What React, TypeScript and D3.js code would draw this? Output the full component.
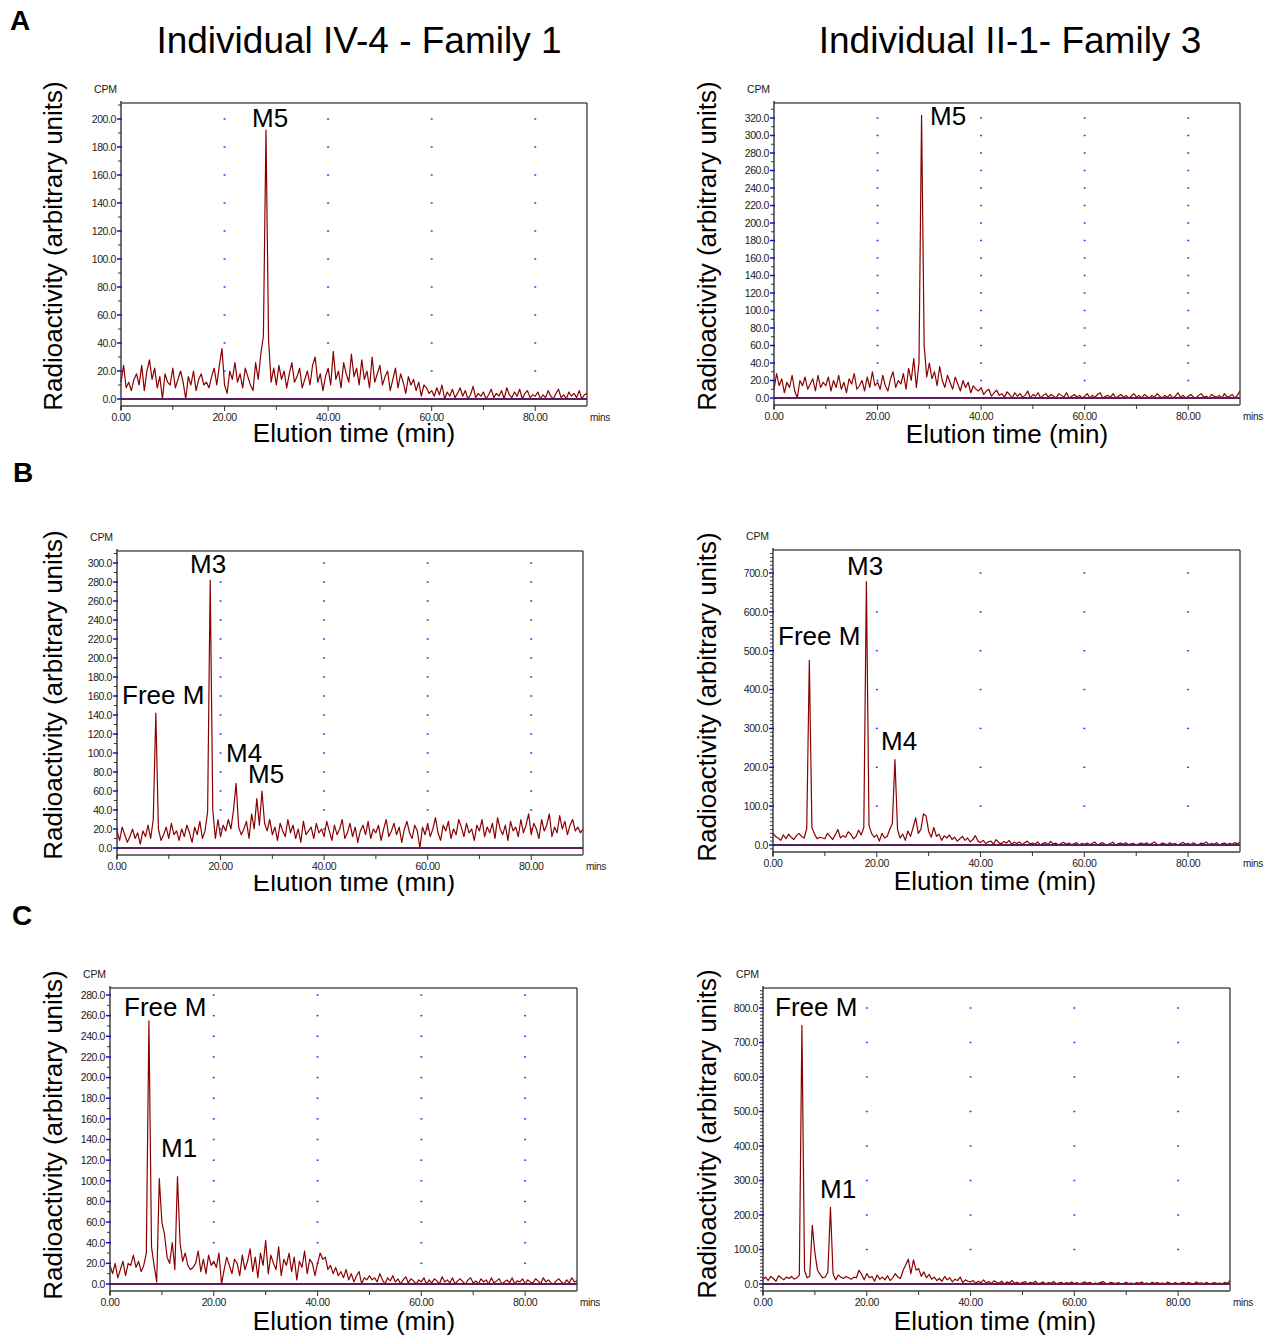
import React from "react";
import * as d3 from "d3";

// Sampling of every chromatogram (minutes between successive readings)
const SAMPLE_STEP_MIN = 0.5;
const X_TICKS = [0, 20, 40, 60, 80];
const X_MINOR = [10, 30, 50, 70];
const GRID_X = [20, 40, 60, 80];

const titles = ["Individual IV-4 - Family 1", "Individual II-1- Family 3"];
const panelLetters = ["A", "B", "C"];
const yAxisTitle = "Radioactivity (arbitrary units)";
const xAxisTitle = "Elution time (min)";

// CPM readings, 0 .. 90 min every 0.5 min (181 values each)
const family1PanelA = [
  12, 24, 8, 12, 6, 14, 18, 10, 24, 6, 20, 28, 14, 22, 8, 16, 0, 18, 12, 10,
  22, 8, 14, 20, 12, 0, 16, 10, 20, 6, 14, 18, 10, 12, 8, 16, 22, 10, 24, 36,
  10, 4, 20, 14, 26, 12, 18, 8, 22, 16, 10, 6, 26, 14, 32, 45, 192, 42, 12, 22,
  10, 24, 14, 20, 8, 18, 26, 12, 16, 22, 8, 14, 20, 10, 24, 30, 12, 18, 6, 16,
  22, 10, 34, 14, 20, 8, 26, 18, 12, 32, 16, 22, 10, 28, 14, 20, 8, 30, 12, 18,
  24, 10, 16, 20, 6, 14, 22, 8, 18, 12, 4, 16, 10, 14, 6, 12, 2, 10, 8, 4,
  6, 2, 8, 3, 10, 0, 5, 2, 7, 1, 4, 8, 2, 6, 0, 3, 9, 1, 4, 2,
  5, 0, 3, 7, 1, 4, 2, 6, 0, 8, 3, 1, 5, 2, 7, 0, 4, 6, 1, 3,
  2, 5, 0, 3, 1, 6, 2, 0, 4, 7, 1, 3, 0, 5, 2, 4, 1, 6, 0, 3,
  4,
];
const family3PanelA = [
  10, 28, 14, 22, 6, 18, 12, 26, 8, 0, 20, 14, 24, 10, 16, 22, 8, 26, 12, 18,
  14, 24, 8, 20, 12, 26, 10, 18, 6, 22, 16, 28, 10, 14, 20, 8, 24, 12, 30, 14,
  18, 10, 26, 14, 8, 22, 30, 12, 20, 16, 28, 10, 34, 20, 45, 12, 40, 323, 60, 24,
  40, 22, 30, 14, 36, 20, 12, 26, 18, 10, 24, 16, 8, 20, 12, 18, 6, 14, 10, 8,
  12, 4, 8, 10, 2, 6, 9, 3, 5, 1, 7, 4, 0, 6, 2, 5, 1, 3, 8, 0,
  4, 2, 6, 0, 3, 5, 1, 4, 2, 0, 5, 3, 1, 6, 0, 2, 4, 1, 3, 0,
  2, 5, 0, 3, 1, 4, 6, 0, 2, 3, 1, 5, 0, 2, 4, 1, 3, 0, 2, 5,
  1, 3, 0, 4, 2, 0, 3, 1, 5, 2, 0, 3, 1, 4, 0, 2, 6, 1, 3, 0,
  2, 4, 1, 0, 3, 5, 1, 2, 0, 4, 2, 1, 3, 0, 5, 1, 2, 4, 0, 3,
  8,
];
const family1PanelB = [
  18, 8, 22, 14, 6, 12, 20, 10, 16, 4, 18, 12, 24, 10, 30, 142, 20, 8, 14, 22,
  10, 26, 14, 18, 8, 20, 12, 24, 16, 6, 22, 14, 28, 10, 18, 38, 282, 40, 10, 30,
  12, 24, 18, 30, 20, 40, 68, 22, 14, 20, 28, 10, 36, 20, 52, 24, 60, 26, 18, 30,
  14, 22, 8, 26, 18, 12, 30, 16, 24, 10, 20, 6, 28, 14, 18, 22, 10, 26, 16, 20,
  12, 28, 18, 8, 24, 14, 20, 30, 10, 16, 26, 12, 22, 6, 18, 24, 14, 28, 10, 20,
  16, 24, 8, 20, 30, 12, 18, 26, 14, 22, 6, 20, 28, 16, 10, 24, 18, 0, 22, 14,
  26, 12, 20, 32, 16, 8, 24, 18, 28, 10, 20, 14, 30, 22, 12, 26, 16, 20, 8, 24,
  18, 30, 12, 22, 16, 26, 10, 32, 20, 14, 24, 8, 28, 18, 22, 12, 30, 16, 24, 36,
  14, 26, 20, 10, 30, 18, 24, 36, 12, 22, 16, 34, 20, 28, 14, 24, 30, 18, 22, 16,
  20,
];
const family3PanelB = [
  30, 22, 18, 12, 26, 16, 28, 20, 14, 24, 30, 22, 18, 42, 475, 45, 28, 16, 20, 18,
  16, 30, 22, 14, 26, 40, 18, 24, 20, 34, 28, 16, 22, 38, 26, 45, 678, 50, 30, 20,
  26, 10, 30, 18, 22, 40, 55, 220, 40, 18, 28, 12, 36, 22, 45, 70, 30, 40, 80, 75,
  35, 20, 45, 22, 28, 12, 24, 18, 26, 14, 20, 10, 16, 22, 12, 18, 8, 14, 24, 10,
  6, 12, 4, 8, 10, 2, 14, 6, 3, 9, 5, 12, 2, 7, 4, 8, 1, 6, 10, 3,
  5, 2, 8, 0, 4, 6, 1, 9, 3, 5, 0, 4, 7, 2, 5, 1, 3, 6, 0, 4,
  2, 5, 1, 4, 8, 0, 3, 6, 2, 1, 4, 7, 0, 3, 5, 2, 6, 1, 3, 4,
  0, 3, 5, 2, 6, 1, 4, 8, 2, 0, 5, 3, 1, 6, 2, 4, 0, 3, 7, 2,
  4, 1, 6, 2, 0, 5, 3, 8, 1, 4, 2, 6, 0, 3, 5, 1, 4, 2, 6, 3,
  8,
];
const family1PanelC = [
  18, 10, 20, 6, 14, 22, 8, 20, 18, 28, 16, 22, 12, 18, 30, 255, 36, 18, 2, 102,
  60, 48, 26, 20, 40, 14, 104, 40, 22, 30, 18, 14, 16, 20, 32, 12, 24, 10, 28, 18,
  22, 16, 30, 0, 14, 26, 18, 10, 24, 20, 8, 28, 14, 22, 34, 12, 26, 6, 30, 18,
  42, 10, 28, 20, 14, 36, 8, 24, 18, 30, 12, 26, 4, 22, 16, 32, 10, 24, 20, 8,
  20, 30, 24, 26, 14, 18, 10, 16, 8, 12, 6, 14, 4, 10, 2, 8, 12, 0, 6, 4,
  8, 4, 6, 2, 10, 4, 0, 6, 3, 8, 2, 5, 0, 4, 7, 1, 5, 3, 0, 4,
  2, 6, 0, 4, 1, 5, 3, 0, 7, 2, 4, 1, 6, 0, 3, 5, 2, 0, 4, 6,
  1, 3, 0, 5, 2, 4, 0, 6, 1, 3, 5, 0, 2, 4, 1, 6, 0, 3, 2, 5,
  0, 4, 2, 1, 5, 3, 0, 6, 2, 4, 1, 0, 3, 5, 2, 0, 4, 1, 6, 2,
  3,
];
const family3PanelC = [
  14, 20, 10, 22, 16, 8, 24, 18, 12, 20, 16, 22, 14, 18, 25, 750, 40, 18, 22, 170,
  90, 40, 28, 18, 20, 35, 222, 30, 12, 26, 20, 16, 22, 18, 14, 20, 18, 40, 28, 12,
  30, 18, 22, 8, 26, 14, 20, 12, 24, 10, 18, 30, 20, 16, 40, 55, 72, 30, 70, 40,
  45, 22, 35, 18, 28, 14, 20, 10, 16, 8, 22, 12, 18, 6, 14, 10, 20, 4, 12, 8,
  6, 10, 2, 8, 4, 12, 3, 7, 1, 9, 5, 2, 8, 0, 6, 3, 10, 2, 5, 1,
  4, 7, 0, 5, 2, 8, 1, 3, 6, 0, 4, 2, 7, 1, 3, 5, 0, 4, 2, 6,
  1, 4, 0, 3, 6, 2, 5, 0, 3, 1, 4, 7, 2, 0, 5, 3, 1, 4, 0, 2,
  5, 1, 3, 0, 4, 2, 6, 1, 3, 0, 5, 2, 4, 1, 3, 0, 6, 2, 1, 4,
  0, 3, 5, 1, 4, 2, 0, 6, 2, 3, 1, 5, 0, 2, 4, 1, 3, 0, 5, 2,
  10,
];

// Peak annotations (text only)
const peaksA1 = ["M5"];
const peaksA3 = ["M5"];
const peaksB1 = ["M3", "Free M", "M4", "M5"];
const peaksB3 = ["M3", "Free M", "M4"];
const peaksC1 = ["Free M", "M1"];
const peaksC3 = ["Free M", "M1"];

// Layout / style configuration for each panel
const panels = [
  { key: "A1", data: family1PanelA, x0: 121, x1: 587, top: 103, y0: 399, refVal: 200, refY: 119, step: 20, minor: 10, axisY: 406,
    yLabelX: 62, yLabelY: 246, xLabelX: 354, xLabelY: 442,
    peaks: peaksA1, peakPos: [[252, 127]] },
  { key: "A3", data: family3PanelA, x0: 774, x1: 1240, top: 103, y0: 398, refVal: 320, refY: 118, step: 20, minor: 10, axisY: 405,
    yLabelX: 716, yLabelY: 246, xLabelX: 1007, xLabelY: 443,
    peaks: peaksA3, peakPos: [[930, 125]] },
  { key: "B1", data: family1PanelB, x0: 117, x1: 583, top: 551, y0: 848, refVal: 300, refY: 563, step: 20, minor: 10, axisY: 855,
    yLabelX: 62, yLabelY: 695, xLabelX: 354, xLabelY: 891, clipXLabelTop: 875,
    peaks: peaksB1, peakPos: [[190, 573], [122, 704], [226, 762], [248, 783]] },
  { key: "B3", data: family3PanelB, x0: 773, x1: 1240, top: 550, y0: 845, refVal: 700, refY: 573, step: 100, minor: 10, axisY: 852,
    yLabelX: 716, yLabelY: 697, xLabelX: 995, xLabelY: 890,
    peaks: peaksB3, peakPos: [[847, 575], [778, 645], [881, 750]] },
  { key: "C1", data: family1PanelC, x0: 110, x1: 577, top: 988, y0: 1284, refVal: 280, refY: 995, step: 20, minor: 10, axisY: 1291,
    yLabelX: 62, yLabelY: 1135, xLabelX: 354, xLabelY: 1330, clipYLabelLeft: 40,
    peaks: peaksC1, peakPos: [[124, 1016], [161, 1157]] },
  { key: "C3", data: family3PanelC, x0: 763, x1: 1230, top: 988, y0: 1284, refVal: 800, refY: 1008, step: 100, minor: 10, axisY: 1291,
    yLabelX: 716, yLabelY: 1134, xLabelX: 995, xLabelY: 1330,
    peaks: peaksC3, peakPos: [[775, 1016], [820, 1198]] },
];

const FONT = "'Liberation Sans', Arial, Helvetica, sans-serif";
const fmtY = d3.format(".1f");
const fmtX = d3.format(".2f");

function Panel({ p }: { p: any }) {
  const x = d3.scaleLinear().domain([0, 90]).range([p.x0, p.x1]);
  const y = d3.scaleLinear().domain([0, p.refVal]).range([p.y0, p.refY]);
  const yTopVal = y.invert(p.top);
  const yBotVal = y.invert(p.axisY);
  const major = d3.range(0, p.refVal + p.step / 2, p.step);
  const minor = d3.range(Math.ceil(yBotVal / p.minor) * p.minor, yTopVal, p.minor).filter(
    (v: number) => Math.abs(v / p.step - Math.round(v / p.step)) > 1e-6
  );
  const line = d3
    .line<number>()
    .x((_d, i) => x(i * SAMPLE_STEP_MIN))
    .y((d) => y(d));
  const clipId = "clip-" + p.key;
  return (
    <g>
      <defs>
        {p.clipXLabelTop != null && (
          <clipPath id={clipId + "-xl"}>
            <rect x={p.x0} y={p.clipXLabelTop} width={p.x1 - p.x0} height={60} />
          </clipPath>
        )}
        {p.clipYLabelLeft != null && (
          <clipPath id={clipId + "-yl"}>
            <rect x={p.clipYLabelLeft} y={p.top - 50} width={60} height={400} />
          </clipPath>
        )}
      </defs>
      {/* grid dots */}
      {major
        .filter((v: number) => v > 0)
        .map((v: number) =>
          GRID_X.map((gx) => (
            <rect key={v + "-" + gx} x={x(gx) - 1} y={y(v) - 0.75} width={2} height={1.5} fill="#3b3bff" />
          ))
        )}
      {/* box */}
      <line x1={p.x0} x2={p.x1} y1={p.top} y2={p.top} stroke="#000" strokeWidth={1.2} />
      <line x1={p.x1} x2={p.x1} y1={p.top} y2={p.axisY} stroke="#000" strokeWidth={1} />
      {/* trace */}
      <path d={line(p.data) || ""} fill="none" stroke="#8b0000" strokeWidth={1.2} strokeLinejoin="round" />
      {/* zero baseline */}
      <line x1={p.x0} x2={p.x1} y1={y(0)} y2={y(0)} stroke="#5a1e5a" strokeWidth={2} />
      {/* x axis */}
      <line x1={p.x0} x2={p.x1} y1={p.axisY} y2={p.axisY} stroke="#707070" strokeWidth={2} />
      {X_TICKS.map((t) => (
        <g key={"xt" + t}>
          <line x1={x(t)} x2={x(t)} y1={p.axisY} y2={p.axisY + 5} stroke="#333" strokeWidth={1} />
          <text x={x(t)} y={p.axisY + 15} textAnchor="middle" fontSize={10.5} fill="#222" letterSpacing={-0.4}>
            {fmtX(t)}
          </text>
        </g>
      ))}
      {X_MINOR.map((t) => (
        <line key={"xm" + t} x1={x(t)} x2={x(t)} y1={p.axisY} y2={p.axisY + 4} stroke="#333" strokeWidth={1} />
      ))}
      <text x={p.x1 + 3} y={p.axisY + 15} fontSize={10} fill="#222" letterSpacing={-0.3}>
        mins
      </text>
      {/* y axis */}
      <line x1={p.x0} x2={p.x0} y1={p.top - 2} y2={p.axisY + 4} stroke="#222" strokeWidth={1.3} />
      {minor.map((v: number) => (
        <line key={"ym" + v} x1={p.x0 - 3} x2={p.x0} y1={y(v)} y2={y(v)} stroke="#222" strokeWidth={0.9} />
      ))}
      {major.map((v: number) => (
        <g key={"yt" + v}>
          <line x1={p.x0 - 4} x2={p.x0 + 1} y1={y(v)} y2={y(v)} stroke="#1010cc" strokeWidth={1.5} />
          <text x={p.x0 - 5} y={y(v) + 3.8} textAnchor="end" fontSize={10.5} fill="#222" letterSpacing={-0.4}>
            {fmtY(v)}
          </text>
        </g>
      ))}
      <text x={p.x0 - 27} y={p.top - 10} fontSize={10.5} fill="#222" letterSpacing={-0.2}>
        CPM
      </text>
      {/* axis titles */}
      <g clipPath={p.clipYLabelLeft != null ? `url(#${clipId}-yl)` : undefined}>
        <text
          transform={`translate(${p.yLabelX},${p.yLabelY}) rotate(-90)`}
          textAnchor="middle"
          fontSize={26}
          fill="#000"
        >
          {yAxisTitle}
        </text>
      </g>
      <g clipPath={p.clipXLabelTop != null ? `url(#${clipId}-xl)` : undefined}>
        <text x={p.xLabelX} y={p.xLabelY} textAnchor="middle" fontSize={26} fill="#000">
          {xAxisTitle}
        </text>
      </g>
      {/* peak labels */}
      {p.peaks.map((t: string, i: number) => (
        <text key={"pk" + i} x={p.peakPos[i][0]} y={p.peakPos[i][1]} fontSize={26} fill="#000">
          {t}
        </text>
      ))}
    </g>
  );
}

export default function App() {
  return (
    <svg width={1280} height={1338} viewBox="0 0 1280 1338" style={{ display: "block", position: "absolute", left: 0, top: 0, background: "#fff" }} fontFamily={FONT}>
      <rect x={0} y={0} width={1280} height={1338} fill="#fff" />
      <text x={359} y={53} textAnchor="middle" fontSize={37} fill="#000">
        {titles[0]}
      </text>
      <text x={1010} y={53} textAnchor="middle" fontSize={37} fill="#000">
        {titles[1]}
      </text>
      {panelLetters.map((l, i) => (
        <text key={l} x={[10, 13, 12][i]} y={[30, 482, 925][i]} fontSize={28} fontWeight="bold" fill="#000">
          {l}
        </text>
      ))}
      {panels.map((p) => (
        <Panel key={p.key} p={p} />
      ))}
    </svg>
  );
}
